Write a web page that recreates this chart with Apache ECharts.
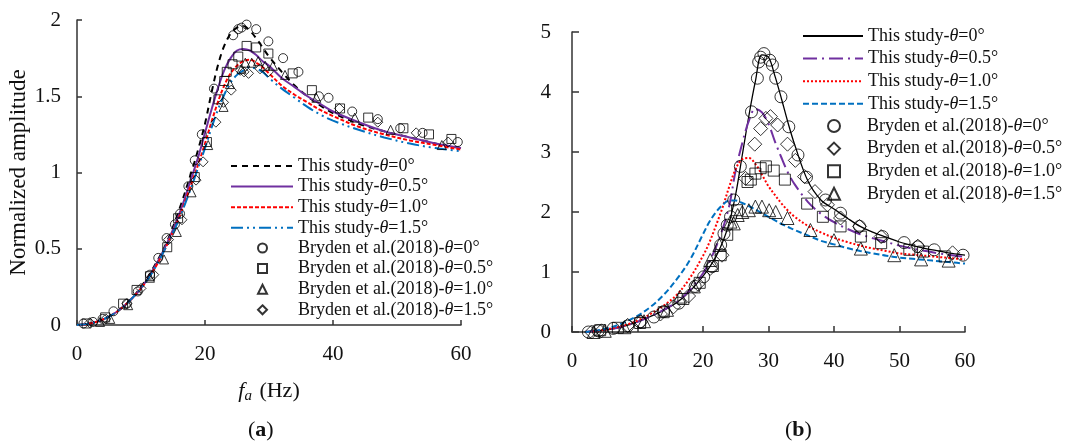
<!DOCTYPE html>
<html>
<head>
<meta charset="utf-8">
<script src="https://cdn.jsdelivr.net/npm/echarts@6/dist/echarts.min.js"></script>
<style>
  html, body { margin: 0; padding: 0; background: #fff; }
  #chart { width: 1067px; height: 443px; }
</style>
</head>
<body>
<div id="chart"></div>
<script>
// ---- panel (a) data ----
const freqA = [0, 2, 4, 6, 8, 10, 12, 14, 16, 18, 19, 20, 21, 22, 23, 24, 25, 26, 27, 28, 29, 30, 32, 34, 36, 38, 40, 44, 48, 52, 56, 60];
const a_th00 = [0, 0.01, 0.035, 0.08, 0.15, 0.25, 0.38, 0.54, 0.76, 1.02, 1.16, 1.32, 1.52, 1.70, 1.83, 1.91, 1.95, 1.96, 1.93, 1.88, 1.82, 1.76, 1.66, 1.57, 1.50, 1.44, 1.39, 1.32, 1.27, 1.23, 1.19, 1.16];
const a_th05 = [0, 0.01, 0.035, 0.08, 0.15, 0.24, 0.37, 0.53, 0.73, 0.98, 1.11, 1.26, 1.41, 1.55, 1.67, 1.75, 1.80, 1.81, 1.80, 1.77, 1.73, 1.70, 1.62, 1.56, 1.50, 1.45, 1.40, 1.33, 1.27, 1.23, 1.19, 1.16];
const a_th10 = [0, 0.01, 0.035, 0.08, 0.15, 0.24, 0.36, 0.52, 0.71, 0.94, 1.06, 1.19, 1.33, 1.46, 1.57, 1.65, 1.70, 1.73, 1.74, 1.72, 1.69, 1.65, 1.57, 1.51, 1.46, 1.41, 1.37, 1.30, 1.25, 1.21, 1.18, 1.15];
const a_th15 = [0, 0.01, 0.035, 0.08, 0.15, 0.24, 0.36, 0.52, 0.70, 0.92, 1.04, 1.16, 1.29, 1.41, 1.51, 1.59, 1.64, 1.67, 1.69, 1.68, 1.66, 1.62, 1.55, 1.49, 1.43, 1.38, 1.34, 1.28, 1.23, 1.19, 1.16, 1.14];

const a_exp00 = [[1, 0.01], [2.5, 0.02], [4, 0.04], [5.7, 0.09], [7.8, 0.14], [9.5, 0.22], [11.4, 0.33], [12.7, 0.44], [14, 0.57], [15.3, 0.66], [16.1, 0.73], [17.4, 0.91], [18.4, 1.08], [19.5, 1.25], [21.4, 1.55], [24.4, 1.90], [25.2, 1.94], [25.7, 1.95], [26.5, 1.97], [28, 1.94], [29.9, 1.86], [32.2, 1.75], [34.6, 1.66], [37.8, 1.50], [39.3, 1.49], [43, 1.40], [47, 1.35], [50.5, 1.29], [54, 1.26], [59.5, 1.20]];
const a_exp05 = [[1.5, 0.01], [4.4, 0.05], [7.2, 0.14], [9.3, 0.23], [11.4, 0.32], [14.1, 0.51], [15.8, 0.70], [18.4, 0.97], [20.3, 1.20], [22.1, 1.48], [23, 1.60], [23.4, 1.66], [24.3, 1.71], [25.2, 1.76], [26.5, 1.83], [28, 1.82], [29.9, 1.78], [33.7, 1.65], [36.7, 1.54], [41.1, 1.42], [45.5, 1.36], [51, 1.29], [55, 1.25], [58.5, 1.22]];
const a_exp10 = [[3.6, 0.02], [5.2, 0.04], [8, 0.13], [11.4, 0.31], [13.6, 0.43], [15.6, 0.61], [17.9, 0.87], [20.5, 1.18], [22.9, 1.43], [23.9, 1.58], [25.7, 1.68], [26.3, 1.72], [27.3, 1.72], [28.3, 1.73], [29.4, 1.70], [30.6, 1.70], [32.5, 1.64], [37.4, 1.49], [43.4, 1.36], [49, 1.28], [57, 1.18]];
const a_exp15 = [[2, 0.015], [4.5, 0.04], [7.8, 0.14], [10, 0.24], [12, 0.33], [14.3, 0.56], [16.4, 0.69], [18.6, 0.95], [19.7, 1.07], [21.7, 1.33], [22.9, 1.46], [24.1, 1.54], [25.5, 1.67], [26.1, 1.66], [26.8, 1.65], [28.6, 1.68], [29.9, 1.66], [41, 1.42], [47, 1.33], [53, 1.26], [58, 1.20]];

// ---- panel (b) data ----
const freqB = [2, 4, 6, 8, 10, 12, 14, 16, 18, 20, 21, 22, 23, 24, 25, 26, 27, 28, 29, 30, 31, 32, 33, 34, 36, 38, 40, 42, 44, 46, 48, 50, 52, 54, 56, 58, 60];
const b_th00 = [0, 0.02, 0.05, 0.1, 0.17, 0.26, 0.36, 0.49, 0.68, 0.93, 1.08, 1.26, 1.5, 1.82, 2.3, 2.95, 3.6, 4.18, 4.62, 4.58, 4.26, 3.88, 3.48, 3.12, 2.52, 2.2, 2.05, 1.9, 1.76, 1.66, 1.58, 1.5, 1.44, 1.39, 1.35, 1.31, 1.28];
const b_th05 = [0, 0.02, 0.05, 0.1, 0.17, 0.26, 0.37, 0.5, 0.7, 0.98, 1.18, 1.42, 1.72, 2.1, 2.7, 3.15, 3.52, 3.72, 3.66, 3.47, 3.17, 2.9, 2.65, 2.46, 2.17, 1.97, 1.83, 1.72, 1.63, 1.56, 1.5, 1.44, 1.39, 1.35, 1.31, 1.28, 1.25];
const b_th10 = [0, 0.02, 0.06, 0.11, 0.19, 0.3, 0.44, 0.62, 0.9, 1.27, 1.5, 1.78, 2.08, 2.42, 2.72, 2.88, 2.9, 2.8, 2.62, 2.43, 2.28, 2.14, 2.02, 1.92, 1.77, 1.66, 1.57, 1.5, 1.44, 1.39, 1.35, 1.31, 1.29, 1.27, 1.25, 1.23, 1.21];
const b_th15 = [0, 0.03, 0.08, 0.16, 0.27, 0.42, 0.62, 0.88, 1.2, 1.63, 1.84, 2.0, 2.12, 2.19, 2.19, 2.15, 2.1, 2.04, 1.98, 1.92, 1.86, 1.8, 1.75, 1.7, 1.61, 1.52, 1.46, 1.4, 1.35, 1.31, 1.27, 1.24, 1.22, 1.2, 1.18, 1.16, 1.14];

const b_exp00 = [[2.5, 0], [4, 0.02], [6.3, 0.06], [8.5, 0.1], [10.4, 0.17], [12.5, 0.25], [14, 0.34], [16.3, 0.48], [18.8, 0.76], [20.1, 0.92], [21.4, 1.09], [22.7, 1.45], [23.2, 1.64], [23.7, 1.78], [24.2, 1.92], [24.7, 2.2], [25.7, 2.76], [27.4, 3.67], [28.3, 4.23], [28.5, 4.5], [28.8, 4.58], [29.3, 4.64], [30.2, 4.53], [30.6, 4.45], [31.1, 4.23], [31.9, 3.92], [33.1, 3.42], [34.5, 2.95], [35.8, 2.58], [38.7, 2.2], [41, 1.98], [43.9, 1.76], [47.4, 1.59], [50.7, 1.49], [52.8, 1.42], [55.3, 1.37], [59.7, 1.28]];
const b_exp05 = [[3, 0], [4.5, 0.02], [8.5, 0.11], [10.5, 0.17], [13.5, 0.3], [15.5, 0.42], [17.8, 0.6], [19.2, 0.8], [21.1, 1.06], [22.9, 1.28], [26.5, 2.56], [27.9, 3.13], [28.8, 3.39], [29.6, 3.56], [30.3, 3.59], [31.4, 3.45], [32.9, 3.13], [34.1, 2.86], [35.5, 2.59], [37.1, 2.34], [39, 2.12], [41, 1.9], [43.9, 1.76], [47.2, 1.59], [52.8, 1.43], [58.1, 1.32]];
const b_exp10 = [[4.3, 0.03], [7, 0.07], [10.4, 0.15], [14, 0.33], [17, 0.55], [19.5, 0.82], [21.5, 1.1], [22.7, 1.28], [23.7, 1.62], [25.2, 2.03], [26.8, 2.5], [27.3, 2.54], [28, 2.64], [28.8, 2.73], [29.6, 2.76], [30.8, 2.69], [32.5, 2.54], [35.9, 2.14], [38.3, 1.92], [41, 1.76], [44.1, 1.59], [47.2, 1.48], [51.5, 1.37], [53.6, 1.34], [56.9, 1.26]];
const b_exp15 = [[3.3, 0], [5, 0.02], [8, 0.08], [11, 0.18], [14.5, 0.37], [16.5, 0.59], [18.6, 0.76], [21.1, 1.2], [22.5, 1.45], [24.2, 1.84], [24.7, 1.81], [25.3, 1.95], [26, 2.0], [27, 2.03], [28, 2.09], [29, 2.09], [30.1, 2.03], [31.1, 2.0], [32.9, 1.9], [36.4, 1.7], [40, 1.53], [44.1, 1.39], [49.2, 1.28], [53.3, 1.21], [57.5, 1.19]];

const angles = ['0', '0.5', '1.0', '1.5'];

const FONT = 'Liberation Serif';
const AXIS = '#333';
const PURPLE = '#7030A0';
const RED = '#FF0000';
const BLUE = '#0070C0';

const chart = echarts.init(document.getElementById('chart'));

const zip = (xs, ys) => xs.map((x, i) => [x, ys[i]]);

// legend labels keyed by series name; {p| } pushes marker rows' text in line with the others
const labels = {};
angles.forEach((a, i) => {
  labels['aL' + i] = labels['bL' + i] = '{n|This study-}{i|θ}{n|=' + a + '°}';
  labels['aE' + i] = labels['bE' + i] = '{p| }{n|Bryden et al.(2018)-}{i|θ}{n|=' + a + '°}';
});

const lineSeries = (name, idx, data, color, width, type) => ({
  name, type: 'line', xAxisIndex: idx, yAxisIndex: idx,
  data, symbol: 'none', smooth: 0.35, z: 2,
  lineStyle: { color, width, type },
  itemStyle: { color },
});

const expSeries = (name, idx, data, symbol, size) => ({
  name, type: 'scatter', xAxisIndex: idx, yAxisIndex: idx,
  data, symbol, symbolSize: size, z: 5,
  itemStyle: { color: 'rgba(255,255,255,0)', borderColor: '#000', borderWidth: 1 },
});

const legendText = (pad) => ({
  fontFamily: FONT, fontSize: 18, color: '#111', lineHeight: 18,
  rich: {
    p: { width: pad, fontSize: 10 },
    n: { fontFamily: FONT, fontSize: 18, color: '#111' },
    i: { fontFamily: FONT, fontSize: 18, color: '#111', fontStyle: 'italic' },
  },
});

const lineLegend = (prefix, left, top, width, gap) => ({
  left, top, orient: 'vertical', itemWidth: width, itemHeight: 10, itemGap: gap,
  selectedMode: false, textStyle: legendText(0),
  data: [0, 1, 2, 3].map((i) => ({ name: prefix + i, itemStyle: { opacity: 0 } })),
  formatter: (n) => labels[n],
});

const markLegend = (prefix, left, top, size, gap, pad) => ({
  left, top, orient: 'vertical', itemWidth: size, itemHeight: size, itemGap: gap,
  selectedMode: false, textStyle: legendText(pad),
  data: [0, 1, 2, 3].map((i) => prefix + i),
  formatter: (n) => labels[n],
});

const tickLabel = { fontFamily: FONT, fontSize: 21, color: '#111' };

const titleStyle = {
  fontFamily: FONT, fontSize: 22, fontWeight: 'normal', color: '#111',
  rich: { b: { fontFamily: FONT, fontSize: 22, fontWeight: 'bold', color: '#111' } },
};

const option = {
  animation: false,
  textStyle: { fontFamily: FONT },
  title: [
    { text: '({b|a})', left: 243, top: 414, textStyle: titleStyle },
    { text: '({b|b})', left: 780, top: 414, textStyle: titleStyle },
  ],
  legend: [
    lineLegend('aL', 225, 152, 62, 2.6),
    markLegend('aE', 252, 234, 9, 2.6, 26),
    lineLegend('bL', 797, 22, 60, 4.6),
    markLegend('bE', 822, 112, 12, 4.6, 22),
  ],
  grid: [
    { left: 77, top: 20, width: 384, height: 305 },
    { left: 572, top: 32, width: 393, height: 300 },
  ],
  xAxis: [
    {
      gridIndex: 0, type: 'value', min: 0, max: 60, interval: 20,
      axisLine: { lineStyle: { color: AXIS, width: 1.5 } },
      axisTick: { inside: true, length: 5, lineStyle: { color: AXIS, width: 1.5 } },
      splitLine: { show: false },
      axisLabel: Object.assign({ margin: 19 }, tickLabel),
      name: '{i|f}{s|a} (Hz)', nameLocation: 'middle', nameGap: 54,
      nameTextStyle: {
        fontFamily: FONT, fontSize: 22, color: '#111',
        rich: {
          i: { fontFamily: FONT, fontSize: 22, fontStyle: 'italic', color: '#111' },
          s: { fontFamily: FONT, fontSize: 15, fontStyle: 'italic', color: '#111', padding: [10, 2, 0, 0] },
        },
      },
    },
    {
      gridIndex: 1, type: 'value', min: 0, max: 60, interval: 10,
      axisLine: { lineStyle: { color: AXIS, width: 1.5 } },
      axisTick: { inside: true, length: 6, lineStyle: { color: AXIS, width: 1.5 } },
      splitLine: { show: false },
      axisLabel: Object.assign({ margin: 19 }, tickLabel),
    },
  ],
  yAxis: [
    {
      gridIndex: 0, type: 'value', min: 0, max: 2, interval: 0.5,
      axisLine: { show: true, lineStyle: { color: AXIS, width: 1.5 } },
      axisTick: { show: true, inside: true, length: 5, lineStyle: { color: AXIS, width: 1.5 } },
      splitLine: { show: false },
      axisLabel: Object.assign({ margin: 16 }, tickLabel),
      name: 'Normalized amplitude', nameLocation: 'middle', nameGap: 46, nameRotate: 90,
      nameTextStyle: { fontFamily: FONT, fontSize: 23, color: '#111' },
    },
    {
      gridIndex: 1, type: 'value', min: 0, max: 5, interval: 1,
      axisLine: { show: true, lineStyle: { color: AXIS, width: 1.5 } },
      axisTick: { show: true, inside: true, length: 7, lineStyle: { color: AXIS, width: 1.5 } },
      splitLine: { show: false },
      axisLabel: Object.assign({ margin: 21 }, tickLabel),
    },
  ],
  series: [
    lineSeries('aL0', 0, zip(freqA, a_th00), '#000', 2, [6, 5]),
    lineSeries('aL1', 0, zip(freqA, a_th05), PURPLE, 2, 'solid'),
    lineSeries('aL2', 0, zip(freqA, a_th10), RED, 2, [4, 2]),
    lineSeries('aL3', 0, zip(freqA, a_th15), BLUE, 2, [12, 4, 2, 4, 2, 4]),
    expSeries('aE0', 0, a_exp00, 'circle', 9),
    expSeries('aE1', 0, a_exp05, 'rect', 9),
    expSeries('aE2', 0, a_exp10, 'triangle', 9),
    expSeries('aE3', 0, a_exp15, 'diamond', 10),

    lineSeries('bL0', 1, zip(freqB, b_th00), '#000', 1.3, 'solid'),
    lineSeries('bL1', 1, zip(freqB, b_th05), PURPLE, 2, [14, 5, 2, 5]),
    lineSeries('bL2', 1, zip(freqB, b_th10), RED, 2, [2, 2]),
    lineSeries('bL3', 1, zip(freqB, b_th15), BLUE, 2, [6, 3]),
    expSeries('bE0', 1, b_exp00, 'circle', 12),
    expSeries('bE1', 1, b_exp05, 'diamond', 14),
    expSeries('bE2', 1, b_exp10, 'rect', 11),
    expSeries('bE3', 1, b_exp15, 'triangle', 13),
  ],
};

chart.setOption(option);
</script>
</body>
</html>
